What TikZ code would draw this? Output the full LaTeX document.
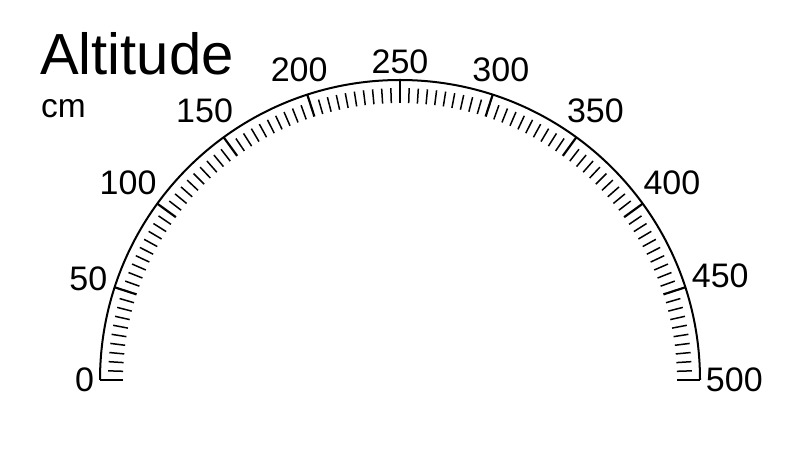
\documentclass[tikz,border=0pt]{standalone}
\usepackage{fontspec}
\setmainfont{Liberation Sans}
\begin{document}
\begin{tikzpicture}[x=1pt,y=1pt,
  minortick/.style={line width=1.5pt},
  majortick/.style={line width=2.2pt},
  scalearc/.style={line width=2pt},
  scalelabel/.style={font=\fontsize{34}{40}\selectfont, inner sep=0pt, anchor=center},
  titletext/.style={font=\fontsize{58}{64}\selectfont, inner sep=0pt, anchor=base west},
  unittext/.style={font=\fontsize{33.5}{40}\selectfont, inner sep=0pt, anchor=base west},
]
\useasboundingbox (0,0) rectangle (800,460);
\coordinate (c) at (400,80);
% ticks
\foreach \i in {0,...,100} {
  \pgfmathsetmacro\ang{180-1.8*\i}
  \pgfmathtruncatemacro\m{mod(\i,10)}
  \ifnum\m=0
    \draw[majortick] (c) ++(\ang:277) -- ++(\ang:23);
  \else
    \draw[minortick] (c) ++(\ang:277) -- ++(\ang:15);
  \fi
}
% arc
\draw[scalearc] (c) ++(180:300) arc[start angle=180, end angle=0, radius=300];
% labels
\foreach \v in {0,50,...,500} {
  \pgfmathsetmacro\ang{180-0.36*\v}
  \pgfmathsetmacro\n{\v<10 ? 1 : (\v<100 ? 2 : 3)}
  \pgfmathsetmacro\rr{306+\n*0.556*17*abs(cos(\ang))+0.716*17*abs(sin(\ang))}
  \path (c) ++(\ang:\rr) node[scalelabel] (l\v) {\v};
}
\node[titletext] (title) at (40,385) {Altitude};
\node[unittext] (unit) at (41,342) {cm};
\end{tikzpicture}
\end{document}
